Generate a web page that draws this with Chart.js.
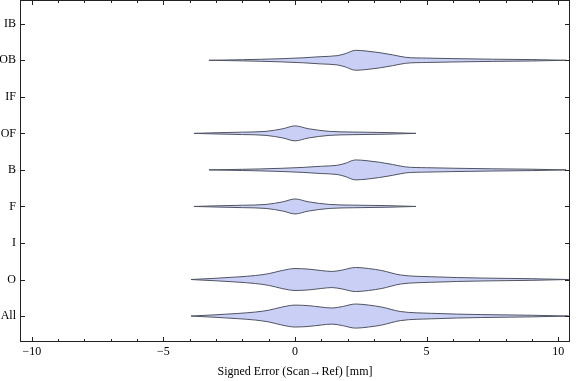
<!DOCTYPE html>
<html>
<head>
<meta charset="utf-8">
<script src="https://cdn.jsdelivr.net/npm/chart.js@4"></script>
<style>
html, body { margin: 0; padding: 0; background: #fff; }
</style>
</head>
<body>
<canvas id="c" width="576" height="381"></canvas>
<script>
// categories, top to bottom
const categories = ["IB", "OB", "IF", "OF", "B", "F", "I", "O", "All"];

// violin outlines: x positions (mm) and half widths (category units)
const obX = [-3.27, -2.0, -1.3, -0.5, 0.3, 1.0, 1.6, 1.9, 2.3, 2.7, 3.2, 3.7, 4.2, 5.0, 6.0, 7.5, 9.0, 10.3];
const obW = [0, 0.016, 0.027, 0.044, 0.068, 0.10, 0.126, 0.178, 0.273, 0.254, 0.21, 0.15, 0.082, 0.06, 0.046, 0.03, 0.019, 0];

const ofX = [-3.84, -3.0, -2.0, -1.1, -0.45, 0.0, 0.5, 1.3, 2.2, 3.5, 4.6];
const ofW = [0, 0.016, 0.033, 0.055, 0.128, 0.205, 0.128, 0.055, 0.036, 0.022, 0];

const allX = [-3.95, -3.0, -2.2, -1.5, -1.0, -0.5, 0.0, 0.5, 1.0, 1.4, 1.8, 2.3, 2.8, 3.3, 4.0, 5.2, 7.1, 9.0, 10.4];
const allW = [0, 0.035, 0.07, 0.11, 0.16, 0.245, 0.30, 0.285, 0.245, 0.22, 0.26, 0.33, 0.30, 0.245, 0.125, 0.075, 0.04, 0.022, 0];

const profiles = {
    OB: [obX, obW], B: [obX, obW],
    OF: [ofX, ofW], F: [ofX, ofW],
    O: [allX, allW], All: [allX, allW]
};

const xTicks = [-10, -5, 0, 5, 10];

const fillColor = "rgb(202, 207, 245)";
const lineColor = "rgb(80, 84, 98)";
const serif = "'Liberation Serif', 'DejaVu Serif', serif";

const makeDataSets = () => {
    let datasets = [];
    categories.forEach((cat, i) => {
        if (!profiles[cat]) return;
        let xs = profiles[cat][0];
        let ws = profiles[cat][1];
        let yc = categories.length - i;
        let common = {
            borderColor: lineColor,
            borderWidth: 1,
            pointRadius: 0,
            cubicInterpolationMode: "monotone"
        };
        datasets.push(Object.assign({
            data: xs.map((x, k) => ({x: x, y: yc + ws[k]})),
            fill: false
        }, common));
        datasets.push(Object.assign({
            data: xs.map((x, k) => ({x: x, y: yc - ws[k]})),
            fill: "-1",
            backgroundColor: fillColor
        }, common));
    });
    return datasets;
};

// Mathematica style frame with inward ticks
const framePlugin = {
    id: "frame",
    afterDraw(chart) {
        const ctx = chart.ctx;
        const a = chart.chartArea;
        const x = chart.scales.x, y = chart.scales.y;
        const line = (x1, y1, x2, y2) => {
            ctx.beginPath();
            ctx.moveTo(x1, y1);
            ctx.lineTo(x2, y2);
            ctx.stroke();
        };
        ctx.save();
        ctx.strokeStyle = "#222";
        ctx.lineWidth = 1;
        ctx.strokeRect(a.left + 0.5, a.top + 0.5, a.right - a.left - 1, a.bottom - a.top - 1);
        for (let v = -10; v <= 10; v++) {
            let px = Math.round(x.getPixelForValue(v)) + 0.5;
            let len = v % 5 == 0 ? 5 : 3;
            line(px, a.bottom, px, a.bottom - len);
            line(px, a.top, px, a.top + len);
        }
        for (let v = 1; v <= categories.length; v++) {
            let py = Math.round(y.getPixelForValue(v)) + 0.5;
            line(a.left, py, a.left + 5, py);
            line(a.right, py, a.right - 5, py);
        }
        ctx.restore();
    }
};

new Chart(document.getElementById("c"), {
    type: "line",
    data: { datasets: makeDataSets() },
    options: {
        responsive: false,
        animation: false,
        devicePixelRatio: 1,
        layout: { padding: { top: 0, right: 6, left: 0, bottom: 0 } },
        plugins: {
            legend: { display: false },
            tooltip: { enabled: false }
        },
        scales: {
            x: {
                type: "linear",
                min: -10.45,
                max: 10.45,
                afterBuildTicks: (scale) => {
                    scale.ticks = xTicks.map(v => ({value: v}));
                },
                afterFit: (scale) => {
                    scale.height = 39;
                    scale.paddingLeft = 0;
                    scale.paddingRight = 0;
                },
                grid: { display: false, drawTicks: false },
                border: { display: false },
                ticks: {
                    color: "#000",
                    padding: 3,
                    maxRotation: 0,
                    font: { family: serif, size: 12 },
                    callback: (v) => v < 0 ? "\u2212" + Math.abs(v) : String(v)
                },
                title: {
                    display: true,
                    text: "Signed Error (Scan\u2192Ref) [mm]",
                    color: "#000",
                    font: { family: serif, size: 12 },
                    padding: { top: 2, bottom: 2 }
                }
            },
            y: {
                type: "linear",
                min: 0.29,
                max: 9.65,
                afterBuildTicks: (scale) => {
                    scale.ticks = categories.map((c, i) => ({value: categories.length - i}));
                },
                afterFit: (scale) => {
                    scale.width = 20;
                    scale.paddingTop = 0;
                    scale.paddingBottom = 0;
                },
                grid: { display: false, drawTicks: false },
                border: { display: false },
                ticks: {
                    color: "#000",
                    padding: 4,
                    font: { family: serif, size: 12 },
                    callback: (v) => categories[categories.length - v]
                }
            }
        }
    },
    plugins: [framePlugin]
});
</script>
</body>
</html>
